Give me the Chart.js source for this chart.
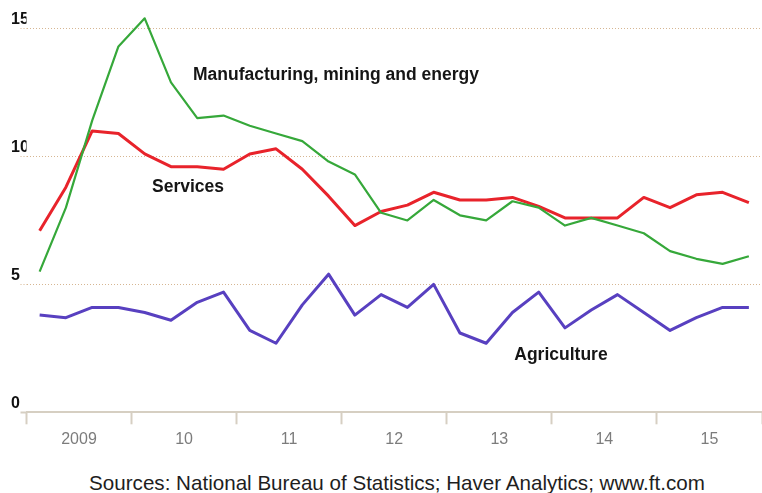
<!DOCTYPE html>
<html>
<head>
<meta charset="utf-8">
<script src="https://cdn.jsdelivr.net/npm/chart.js@4.4.0/dist/chart.umd.min.js"></script>
<style>
    html, body { margin: 0; padding: 0; background: #fff; }
    #wrap { position: relative; width: 762px; height: 493px; overflow: hidden; }
    #source {
        position: absolute; left: 0; width: 794px; top: 472px;
        text-align: center; font: 20.6px "Liberation Sans", Arial, sans-serif;
        line-height: 21px; color: #1e1e1e; white-space: nowrap;
    }
</style>
</head>
<body>
<div id="wrap">
    <canvas id="growthChart" width="762" height="460"></canvas>
    <div id="source">Sources: National Bureau of Statistics; Haver Analytics; www.ft.com</div>
</div>
<script>
// Quarterly data, 2009 Q1 - 2015 Q4
const quarters = [
    '2009 Q1', '2009 Q2', '2009 Q3', '2009 Q4',
    '2010 Q1', '2010 Q2', '2010 Q3', '2010 Q4',
    '2011 Q1', '2011 Q2', '2011 Q3', '2011 Q4',
    '2012 Q1', '2012 Q2', '2012 Q3', '2012 Q4',
    '2013 Q1', '2013 Q2', '2013 Q3', '2013 Q4',
    '2014 Q1', '2014 Q2', '2014 Q3', '2014 Q4',
    '2015 Q1', '2015 Q2', '2015 Q3', '2015 Q4'
];
const yearLabels = ['2009', '10', '11', '12', '13', '14', '15'];
const yTicks = [0, 5, 10, 15];

const manufacturing = [5.5, 8.0, 11.4, 14.3, 15.4, 12.9, 11.5, 11.6, 11.2, 10.9, 10.6, 9.8, 9.3, 7.8,
                       7.5, 8.3, 7.7, 7.5, 8.25, 8.0, 7.3, 7.6, 7.3, 7.0, 6.3, 6.0, 5.8, 6.1];
const services = [7.1, 8.8, 11.0, 10.9, 10.1, 9.6, 9.6, 9.5, 10.1, 10.3, 9.5, 8.45, 7.3, 7.85,
                  8.1, 8.6, 8.3, 8.3, 8.4, 8.05, 7.6, 7.6, 7.6, 8.4, 8.0, 8.5, 8.6, 8.2];
const agriculture = [3.8, 3.7, 4.1, 4.1, 3.9, 3.6, 4.3, 4.7, 3.2, 2.7, 4.2, 5.4, 3.8, 4.6,
                     4.1, 5.0, 3.1, 2.7, 3.9, 4.7, 3.3, 4.0, 4.6, 3.9, 3.2, 3.7, 4.1, 4.1];

const seriesNames = ['Manufacturing, mining and energy', 'Services', 'Agriculture'];

// where the in-chart series names sit (category index, value at baseline)
const namePlacement = [
    { x: 5.84, y: 13.0 },
    { x: 4.28, y: 8.6 },
    { x: 18.07, y: 2.05 }
];

const gridTan = '#d6b692';
const axisTan = '#d6cfc2';

// Draws the series names inside the plot
const seriesNamePlugin = {
    id: 'seriesNames',
    afterDatasetsDraw(chart) {
        const { ctx, scales: { x, y } } = chart;
        ctx.save();
        ctx.font = 'bold 17.5px "Liberation Sans", Arial, sans-serif';
        ctx.fillStyle = '#151515';
        ctx.textAlign = 'left';
        ctx.textBaseline = 'alphabetic';
        seriesNames.forEach((name, i) => {
            const p = namePlacement[i];
            ctx.fillText(name, x.getPixelForValue(p.x), y.getPixelForValue(p.y));
        });
        ctx.restore();
    }
};

const isYearEdge = (c) => c.index === undefined || c.index % 4 === 0;

new Chart(document.getElementById('growthChart').getContext('2d'), {
    type: 'line',
    data: {
        labels: quarters,
        datasets: [
            { label: seriesNames[2], data: agriculture, borderColor: '#5840c0', borderWidth: 3 },
            { label: seriesNames[0], data: manufacturing, borderColor: '#36a83a', borderWidth: 2.2 },
            { label: seriesNames[1], data: services, borderColor: '#e8232b', borderWidth: 3 }
        ]
    },
    options: {
        responsive: false,
        animation: false,
        layout: { padding: { left: 11, right: 0, top: 3, bottom: 4.5 } },
        elements: {
            point: { radius: 0 },
            line: { tension: 0, borderJoinStyle: 'round' }
        },
        plugins: {
            legend: { display: false },
            tooltip: { enabled: false }
        },
        scales: {
            x: {
                type: 'category',
                offset: true,
                grid: {
                    offset: true,
                    drawOnChartArea: false,
                    drawTicks: true,
                    tickLength: 12,
                    tickWidth: 2,
                    tickColor: (c) => isYearEdge(c) ? axisTan : 'transparent'
                },
                border: { display: true, color: axisTan, width: 2 },
                ticks: {
                    autoSkip: false,
                    maxRotation: 0,
                    padding: 6,
                    labelOffset: 13.1,
                    color: '#7c7c7c',
                    font: { family: '"Liberation Sans", Arial, sans-serif', size: 16 },
                    callback: (val, i) => i % 4 === 1 ? yearLabels[Math.floor(i / 4)] : ''
                }
            },
            y: {
                min: 0,
                max: 16,
                afterBuildTicks: (scale) => { scale.ticks = yTicks.map(v => ({ value: v })); },
                afterFit: (scale) => {
                    scale.width = 15.5;
                    scale.paddingTop = 0;
                    scale.paddingBottom = 0;
                },
                grid: {
                    color: (c) => c.tick && c.tick.value === 0 ? 'transparent' : gridTan,
                    lineWidth: 1,
                    drawTicks: true,
                    tickLength: 6,
                    tickColor: (c) => c.tick && c.tick.value === 0 ? axisTan : gridTan,
                    tickWidth: (c) => c.tick && c.tick.value === 0 ? 2 : 1,
                    tickBorderDash: (c) => c.tick && c.tick.value === 0 ? [] : [1, 2]
                },
                border: { display: false, dash: [1, 2] },
                ticks: {
                    crossAlign: 'far',
                    labelOffset: -8.5,
                    padding: 0,
                    color: '#111',
                    font: { family: '"Liberation Sans", Arial, sans-serif', size: 16, weight: 'bold' }
                }
            }
        }
    },
    plugins: [seriesNamePlugin]
});
</script>
</body>
</html>
